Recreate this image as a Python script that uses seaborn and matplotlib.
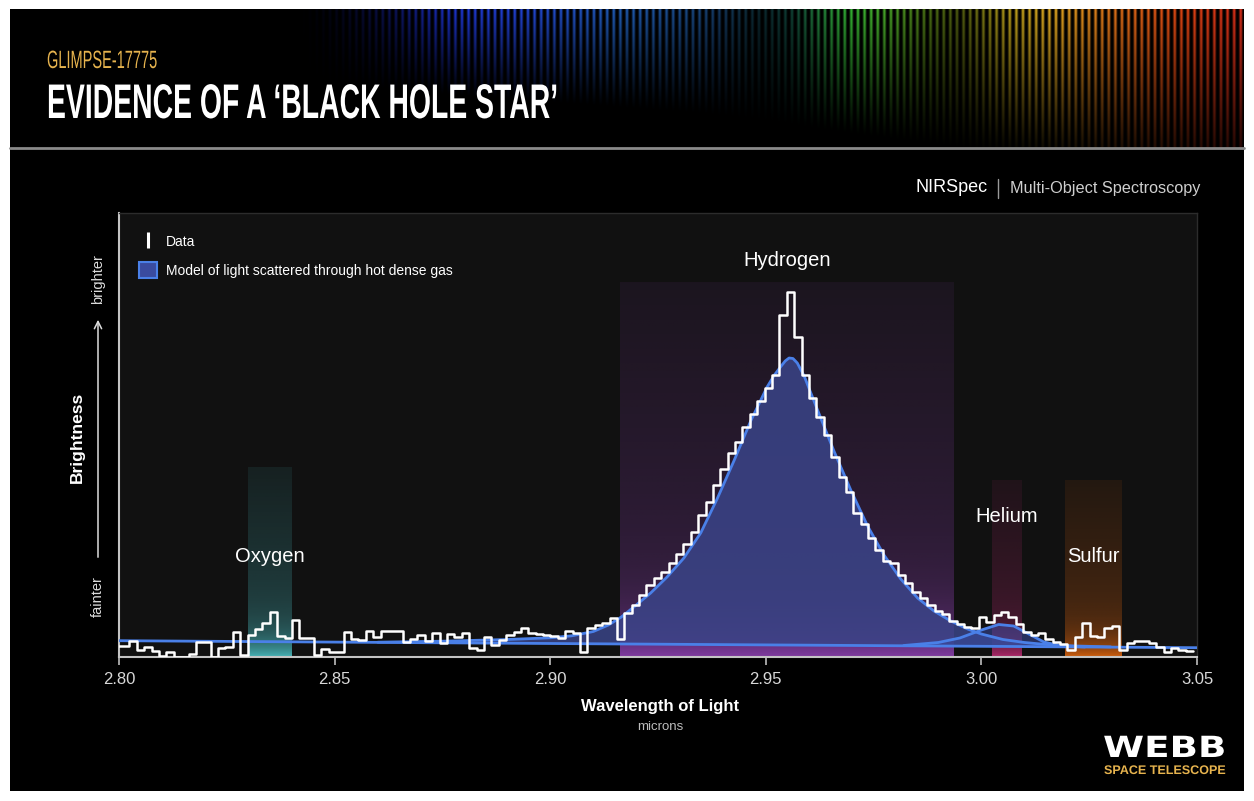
import numpy as np
import pandas as pd
import matplotlib
matplotlib.use("Agg")
import matplotlib.pyplot as plt
import seaborn as sns
from matplotlib.patches import Patch, Rectangle, FancyArrowPatch
from matplotlib.lines import Line2D
from matplotlib.colors import to_rgb
from matplotlib.patheffects import AbstractPathEffect
from matplotlib.transforms import Affine2D

# ---------------------------------------------------------------- data
# NIRSpec pixel bins (microns)
BIN_START = 2.79899
BIN_WIDTH = 0.001713

# measured brightness per pixel bin (arbitrary units)
flux = [
    0.113, 0.113, 0.160, 0.070, 0.103, 0.060, 0.010, 0.053, 0.000, 0.000,
    0.030, 0.153, 0.153, 0.000, 0.087, 0.100, 0.253, 0.020, 0.225, 0.280,
    0.340, 0.455, 0.210, 0.195, 0.370, 0.190, 0.187, 0.020, 0.077, 0.053,
    0.053, 0.247, 0.177, 0.170, 0.263, 0.197, 0.263, 0.263, 0.263, 0.153,
    0.177, 0.220, 0.163, 0.237, 0.137, 0.230, 0.203, 0.237, 0.087, 0.070,
    0.203, 0.120, 0.170, 0.220, 0.247, 0.287, 0.237, 0.230, 0.220, 0.210,
    0.187, 0.263, 0.237, 0.050, 0.287, 0.320, 0.343, 0.387, 0.177, 0.443,
    0.520, 0.620, 0.720, 0.787, 0.853, 0.937, 1.030, 1.130, 1.253, 1.420,
    1.553, 1.720, 1.877, 2.043, 2.153, 2.303, 2.430, 2.560, 2.687, 2.820,
    3.420, 3.653, 3.197, 2.820, 2.587, 2.403, 2.220, 2.003, 1.797, 1.653,
    1.443, 1.330, 1.187, 1.070, 0.963, 0.937, 0.820, 0.737, 0.653, 0.587,
    0.520, 0.463, 0.430, 0.360, 0.330, 0.300, 0.290, 0.403, 0.353, 0.420,
    0.453, 0.403, 0.330, 0.253, 0.220, 0.237, 0.177, 0.153, 0.130, 0.070,
    0.203, 0.337, 0.210, 0.203, 0.287, 0.310, 0.070, 0.143, 0.163, 0.163,
    0.137, 0.103, 0.053, 0.087, 0.070, 0.063,
]

# continuum level of the scattering model
cont_wave = [2.80, 3.05]
cont_level = [0.163, 0.093]

# hydrogen component of the model (continuum included)
h_wave = [2.860, 2.875, 2.890, 2.900, 2.905, 2.910, 2.9135, 2.9165, 2.9194,
          2.9233, 2.9271, 2.9310, 2.9349, 2.9387, 2.9426, 2.9465, 2.9503,
          2.9520, 2.9534, 2.9545, 2.9554, 2.9563, 2.9573, 2.9589, 2.9620,
          2.9658, 2.9697, 2.9736, 2.9774, 2.9813, 2.9852, 2.9890, 2.9929,
          2.9968, 3.0000, 3.0050, 3.0100, 3.0150, 3.0200, 3.0300]
h_model = [0.148, 0.158, 0.175, 0.192, 0.212, 0.255, 0.320, 0.400, 0.500,
           0.640, 0.800, 0.990, 1.240, 1.580, 1.960, 2.360, 2.700,
           2.820, 2.900, 2.960, 2.990, 2.985, 2.940, 2.810, 2.470,
           2.060, 1.670, 1.310, 1.020, 0.780, 0.590, 0.460, 0.360,
           0.280, 0.230, 0.175, 0.145, 0.125, 0.112, 0.101]

# helium component of the model (continuum included)
he_wave = [2.982, 2.990, 2.995, 3.000, 3.004, 3.0075, 3.011, 3.0145, 3.018, 3.024]
he_model = [0.115, 0.145, 0.190, 0.270, 0.325, 0.310, 0.230, 0.150, 0.115, 0.100]

# emission-line regions
band_names = ["Oxygen", "Hydrogen", "Helium", "Sulfur"]
band_start = [2.8300, 2.9163, 3.0024, 3.0194]
band_end = [2.8400, 2.9936, 3.0092, 3.0326]
band_top = [1.90, 3.75, 1.77, 1.77]
band_colors = ["#4cc4c8", "#8a3fae", "#bc2a72", "#e2660e"]
label_wave = [2.835, 2.955, 3.0058, 3.026]
label_level = [1.00, 3.96, 1.41, 1.00]

xticks = [2.80, 2.85, 2.90, 2.95, 3.00, 3.05]
xticklabels = ["2.80", "2.85", "2.90", "2.95", "3.00", "3.05"]

# ---------------------------------------------------------------- style
sns.set_style("dark", rc={"axes.facecolor": "#111111", "figure.facecolor": "white"})
plt.rcParams["font.family"] = ["Liberation Sans", "DejaVu Sans"]

W, H = 1254, 801
fig = plt.figure(figsize=(W / 100, H / 100), dpi=100)


def fx(px):
    return px / W


def fy(py):
    return 1 - py / H


class Stretch(AbstractPathEffect):
    """Scale glyph outlines horizontally about a fixed display x position."""

    def __init__(self, sx, x0):
        super().__init__()
        self.sx = sx
        self.x0 = x0

    def draw_path(self, renderer, gc, tpath, affine, rgbFace=None):
        squeeze = Affine2D().translate(-self.x0, 0).scale(self.sx, 1).translate(self.x0, 0)
        renderer.draw_path(gc, tpath, affine + squeeze, rgbFace)


def fit_width(txt, anchor_px, width_px):
    renderer = fig.canvas.get_renderer()
    bb = txt.get_window_extent(renderer)
    txt.set_path_effects([Stretch(width_px / bb.width, anchor_px)])


# black poster background
fig.add_artist(Rectangle((fx(10), fy(791)), 1234 / W, 782 / H,
                         transform=fig.transFigure, facecolor="black",
                         edgecolor="none", zorder=-10))

# ---------------------------------------------------------------- banner
bax = fig.add_axes([fx(10), fy(148), 1234 / W, 139 / H])
bax.set_axis_off()
px = np.arange(10, 1244) + 0.5
py = np.arange(9, 148) + 0.5
hue_x = [300, 430, 520, 620, 720, 790, 850, 930, 1000, 1050, 1110, 1180, 1244]
hue_c = ["#0a0a50", "#1a2ec8", "#2244d8", "#2264c4", "#1a4a80", "#14584a",
         "#34b834", "#5e8c18", "#a89418", "#d8a420", "#d87018", "#d84412", "#d02a18"]
hue_rgb = np.array([to_rgb(c) for c in hue_c])
col = np.stack([np.interp(px, hue_x, hue_rgb[:, i]) for i in range(3)], axis=1)
env = np.interp(px, [300, 400, 460, 700, 760, 820, 880, 960, 1010, 1244],
                [0.0, 0.55, 1.0, 0.85, 0.45, 0.9, 1.0, 0.6, 1.0, 1.0])
reach = np.interp(px, [300, 700, 850, 1000, 1150, 1244], [75, 105, 125, 145, 170, 180])
stripes = ((np.cos(2 * np.pi * px / 6.6) + 1) / 2) ** 1.6
fade = np.clip(1 - (py[:, None] - 9) / reach[None, :], 0, 1) ** 1.1
inten = fade * (env * stripes)[None, :]
banner = inten[:, :, None] * col[None, :, :]
bax.imshow(np.clip(banner, 0, 1), aspect="auto", extent=[0, 1, 0, 1])
bax.set_xlim(0, 1)
bax.set_ylim(0, 1)
fig.add_artist(Line2D([fx(10), fx(1244)], [fy(148), fy(148)], transform=fig.transFigure,
                      color="#8a8a8a", lw=2))

# titles (condensed display lettering)
t_sub = fig.text(fx(47), fy(68), "GLIMPSE-17775", color="#e6b34e", fontsize=18,
                 va="baseline", ha="left")
fit_width(t_sub, 47, 110)
t_main = fig.text(fx(47), fy(118), "EVIDENCE OF A \u2018BLACK HOLE STAR\u2019", color="white",
                  fontsize=35, weight="bold", va="baseline", ha="left")
fit_width(t_main, 47, 511)

# instrument caption
fig.text(fx(988), fy(188), "NIRSpec", color="white", fontsize=13, ha="right", va="center")
fig.add_artist(Line2D([fx(998), fx(998)], [fy(179), fy(198)], transform=fig.transFigure,
                      color="#9a9a9a", lw=1))
fig.text(fx(1200), fy(188), "Multi-Object Spectroscopy", color="#cfcfcf", fontsize=11.7,
         ha="right", va="center")

# ---------------------------------------------------------------- chart
ax = fig.add_axes([fx(119), fy(657), 1078 / W, 444 / H])
ax.set_facecolor("#111111")

# line-region bands with a glow rising from the axis
grad_f = np.linspace(0, 1, 256)
alpha = 0.09 + 0.2 * (1 - grad_f) + 0.62 * np.exp(-grad_f / 0.09)
for x0, x1, top, c in zip(band_start, band_end, band_top, band_colors):
    rgba = np.zeros((256, 1, 4))
    rgba[:, 0, :3] = to_rgb(c)
    rgba[:, 0, 3] = np.clip(alpha, 0, 1)
    ax.imshow(rgba, origin="lower", aspect="auto", extent=[x0, x1, 0, top],
              interpolation="bilinear", zorder=1)

# model: continuum + hydrogen + helium
cont_h = np.interp(h_wave, cont_wave, cont_level)
cont_he = np.interp(he_wave, cont_wave, cont_level)
ax.fill_between(h_wave, cont_h, h_model, color="#3a4488", alpha=0.85, lw=0, zorder=2)
ax.fill_between(he_wave, cont_he, he_model, color="#3a4ba0", alpha=0.55, lw=0, zorder=2)
model_color = "#4a80e8"
sns.lineplot(x=cont_wave, y=cont_level, color=model_color, lw=2, ax=ax, zorder=3)
sns.lineplot(x=h_wave, y=h_model, color=model_color, lw=2, ax=ax, zorder=3)
sns.lineplot(x=he_wave, y=he_model, color=model_color, lw=2, ax=ax, zorder=3)

# data
edges = BIN_START + BIN_WIDTH * np.arange(len(flux) + 1)
centers = 0.5 * (edges[:-1] + edges[1:])
spec = pd.DataFrame({"wave": centers, "flux": flux})
sns.histplot(data=spec, x="wave", weights="flux", bins=list(edges), element="step",
             fill=False, color="white", linewidth=1.8, ax=ax, zorder=4)

for name, xw, yl in zip(band_names, label_wave, label_level):
    ax.text(xw, yl, name, color="white", fontsize=14.5, ha="center", va="center", zorder=5)

ax.set_xlim(2.80, 3.05)
ax.set_ylim(0, 4.44)
ax.set_xticks(xticks)
ax.set_xticklabels(xticklabels)
ax.set_yticks([])
ax.set_xlabel("")
ax.set_ylabel("")
ax.grid(False)
ax.tick_params(axis="x", bottom=True, direction="out", length=6, width=1.2,
               color="#bdbdbd", labelcolor="#d8d8d8", labelsize=12, pad=5)
for side in ("left", "bottom"):
    ax.spines[side].set_visible(True)
    ax.spines[side].set_color("#c4c4c4")
    ax.spines[side].set_linewidth(1.5)
for side in ("top", "right"):
    ax.spines[side].set_visible(True)
    ax.spines[side].set_color("#2c2c2c")
    ax.spines[side].set_linewidth(1.0)

handles = [
    Line2D([], [], marker="|", linestyle="None", markersize=11.5, markeredgewidth=2.2,
           color="white"),
    Patch(facecolor="#3a4ba0", edgecolor=model_color, linewidth=1.5),
]
leg = ax.legend(handles, ["Data", "Model of light scattered through hot dense gas"],
                loc="upper left", bbox_to_anchor=(0.0065, 0.982), frameon=False,
                fontsize=10, labelcolor="white", handlelength=1.35, handleheight=1.35,
                handletextpad=0.6, labelspacing=0.95)

# axis titles
fig.text(fx(660), fy(706), "Wavelength of Light", color="white", fontsize=12,
         weight="bold", ha="center", va="center")
fig.text(fx(660), fy(727), "microns", color="#bdbdbd", fontsize=9.5,
         ha="center", va="center")
fig.text(fx(77), fy(437), "Brightness", color="white", fontsize=12.5, weight="bold",
         rotation=90, ha="center", va="center")
fig.text(fx(98), fy(597), "fainter", color="#dddddd", fontsize=10.5,
         rotation=90, ha="center", va="center")
fig.text(fx(98), fy(279), "brighter", color="#dddddd", fontsize=10.5,
         rotation=90, ha="center", va="center")
fig.add_artist(FancyArrowPatch((fx(98), fy(560)), (fx(98), fy(317)),
                               transform=fig.transFigure, arrowstyle="->",
                               mutation_scale=13, color="#dddddd", lw=1.1))

# logo
t_logo = fig.text(fx(1226), fy(757), "WEBB", color="white", fontsize=21, weight="bold",
                  family=["DejaVu Sans"], ha="right", va="baseline")
fit_width(t_logo, 1226, 123)
t_tag = fig.text(fx(1226), fy(771), "SPACE TELESCOPE", color="#e6b34e", fontsize=9,
                 weight="bold", ha="right", va="center")
fit_width(t_tag, 1226, 122)

fig.savefig("out.png", dpi=100, facecolor="white")
